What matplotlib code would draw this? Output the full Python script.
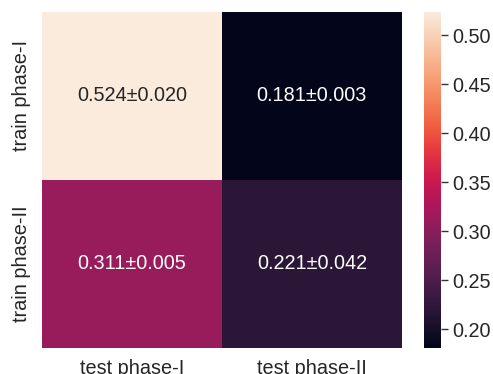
import numpy as np
import matplotlib
matplotlib.use('Agg')
import matplotlib.pyplot as plt
import seaborn as sns

# mean / std of each train-test pairing
row_labels = ['train phase-I', 'train phase-II']
col_labels = ['test phase-I', 'test phase-II']
means = [[0.524, 0.181],
         [0.311, 0.221]]
stds = [[0.020, 0.003],
        [0.005, 0.042]]
cbar_ticks = [0.20, 0.25, 0.30, 0.35, 0.40, 0.45, 0.50]

sns.set_theme(style='white')
plt.rcParams['font.family'] = ['Liberation Sans', 'DejaVu Sans']

fig = plt.figure(figsize=(4.93, 3.74), dpi=100)
ax = fig.add_axes([0.085, 0.0695, 0.730, 0.8985])
cax = fig.add_axes([0.860, 0.0695, 0.034, 0.8985])

m = np.array(means)
s = np.array(stds)
annot = np.array([['%.3f\u00b1%.3f' % (m[i, j], s[i, j]) for j in range(2)] for i in range(2)])

sns.heatmap(m, annot=annot, fmt='', ax=ax, cbar_ax=cax,
            xticklabels=col_labels, yticklabels=row_labels,
            annot_kws={'fontsize': 14.3})

ax.tick_params(axis='both', length=0, labelsize=14.3, pad=8)
ax.set_yticklabels(row_labels, rotation=90, va='center')
cax.tick_params(length=5, width=1, labelsize=14.3, pad=3, color='#333333')
cax.set_yticks(cbar_ticks)
cax.set_yticklabels(['%.2f' % t for t in cbar_ticks])

plt.savefig('out.png', dpi=100)
